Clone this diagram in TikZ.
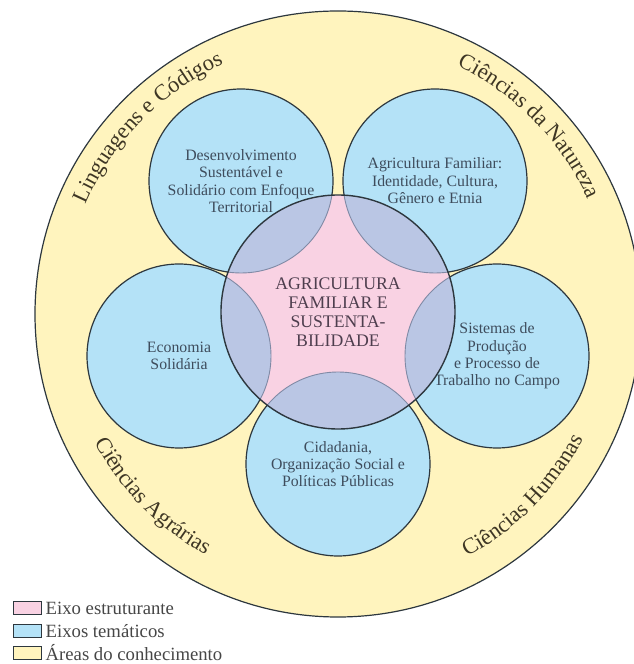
\documentclass[tikz,border=0pt]{standalone}
\usepackage{fontspec}
\setmainfont{Liberation Serif}
\usepackage{tikz}
\usetikzlibrary{positioning}
\usetikzlibrary{decorations.text}

\definecolor{areacol}{RGB}{255,244,190}
\definecolor{eixocol}{RGB}{180,226,247}
\definecolor{estrcol}{RGB}{249,210,227}
\definecolor{mixcol}{RGB}{186,198,228}
\definecolor{linecol}{RGB}{45,55,62}
\definecolor{softline}{RGB}{128,138,165}
\definecolor{eixotext}{RGB}{62,76,92}
\definecolor{estrtext}{RGB}{78,62,78}
\definecolor{areatext}{RGB}{62,54,36}
\definecolor{legtextcol}{RGB}{70,70,70}

\newcommand{\eixofont}{\fontsize{15.8}{17.4}\selectfont}
\newcommand{\estrfont}{\fontsize{17.7}{19.2}\selectfont}
\newcommand{\areafont}{\fontsize{22.5}{24}\selectfont}
\newcommand{\legfont}{\fontsize{18.7}{21}\selectfont}

\tikzset{
  area/.style={circle, fill=areacol, draw=linecol, line width=1.2pt, minimum size=606pt, inner sep=0pt},
  eixo/.style={circle, fill=eixocol, draw=linecol, line width=1.2pt, minimum size=184pt, inner sep=0pt,
    align=center, text=eixotext, font=\eixofont},
  estr/.style={circle, fill=estrcol, minimum size=234pt, inner sep=0pt},
  estrlabel/.style={align=center, text=estrtext, font=\estrfont, inner sep=0pt},
  mix/.style={fill=mixcol, draw=softline, line width=0.9pt},
  arealabel/.style={decorate, decoration={text along path, text align=center, text color=areatext}},
  legbox/.style={rectangle, draw=linecol, line width=1pt, minimum width=28pt, minimum height=13pt, inner sep=0pt},
  legtext/.style={font=\legfont, text=legtextcol, inner sep=0pt}
}

\begin{document}
\begin{tikzpicture}[x=1pt,y=1pt]
\useasboundingbox (0,0) rectangle (633,664);

\node[area] (areas) at (338,350) {};

\node[eixo] (dst) at (241,483) {Desenvolvimento\\Sustentável e\\Solidário com Enfoque\\Territorial};
\node[eixo] (afa) at (435,483) {Agricultura Familiar:\\Identidade, Cultura,\\Gênero e Etnia};
\node[eixo] (eco) at (179,308) {Economia\\Solidária};
\node[eixo] (spt) at (497,308) {Sistemas de\\Produção\\e Processo de\\Trabalho no Campo};
\node[eixo] (cid) at (338,200) {Cidadania,\\Organização Social e\\Políticas Públicas};

\node[estr] (ctr) at (338,352) {};
\begin{scope}
\clip (ctr.center) circle[radius=117];
\foreach \n in {dst,afa,eco,spt,cid}
  \filldraw[mix] (\n.center) circle[radius=92];
\end{scope}
\draw[linecol, line width=1.4pt] (ctr.center) circle[radius=117];
\node[estrlabel] (ctrtext) at (ctr.center) {AGRICULTURA\\FAMILIAR E\\SUSTENTA-\\BILIDADE};

\path[arealabel, decoration={text={|\areafont|Linguagens e Códigos}}]
  (areas.center) ++(161:275) arc[start angle=161, end angle=110, radius=275];
\path[arealabel, decoration={text={|\areafont|Ciências da Natureza}}]
  (areas.center) ++(70:275) arc[start angle=70, end angle=19, radius=275];
\path[arealabel, decoration={text={|\areafont|Ciências Agrárias}}]
  (areas.center) ++(199:275) arc[start angle=199, end angle=250, radius=275];
\path[arealabel, decoration={text={|\areafont|Ciências Humanas}}]
  (areas.center) ++(290:275) arc[start angle=290, end angle=341, radius=275];

\node[legbox, fill=estrcol] (lgestr) at (27,56) {};
\node[legtext, right=4pt of lgestr] (lgestrt) {Eixo estruturante};
\node[legbox, fill=eixocol] (lgeixo) at (27,33) {};
\node[legtext, right=4pt of lgeixo] (lgeixot) {Eixos temáticos};
\node[legbox, fill=areacol] (lgarea) at (27,11) {};
\node[legtext, right=4pt of lgarea] (lgareat) {Áreas do conhecimento};
\end{tikzpicture}
\end{document}
